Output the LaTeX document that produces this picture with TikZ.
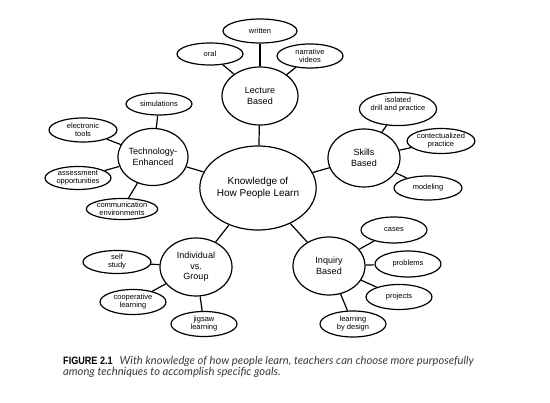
\documentclass[tikz,border=0pt]{standalone}
\usepackage{fontspec}
\setmainfont{Liberation Sans}
\newfontfamily\capfont{Lato}
\newfontfamily\figfont[FakeStretch=0.85]{Liberation Sans}
\usetikzlibrary{shapes.geometric}
\definecolor{capgray}{HTML}{3A3A3A}
\begin{document}
\begin{tikzpicture}[x=1pt,y=-1pt,
  base/.style={draw, ellipse, line width=1.2pt, inner sep=0pt, align=center},
  main/.style={base, font=\fontsize{10}{12}\selectfont},
  hub/.style={base, font=\fontsize{9}{10.5}\selectfont},
  leaf/.style={base, font=\fontsize{7.5}{8}\selectfont},
  link/.style={line width=1.2pt}]
\useasboundingbox (0,0) rectangle (550,403);

\node[main, minimum width=104pt, minimum height=84pt] (kn) at (258,188) {Knowledge of\\How People Learn};

\node[hub, minimum width=76pt, minimum height=58pt] (lec) at (260,96) {Lecture\\Based};
\node[leaf, minimum width=74pt, minimum height=24pt] (wri) at (260,31) {written};
\node[leaf, minimum width=66pt, minimum height=22pt] (ora) at (210,54) {oral};
\node[leaf, minimum width=66pt, minimum height=24pt] (nar) at (310,56) {narrative\\videos};

\node[hub, minimum width=70pt, minimum height=57pt] (tec) at (153,157) {Technology-\\Enhanced};
\node[leaf, minimum width=66pt, minimum height=22pt] (sim) at (159,104) {simulations};
\node[leaf, minimum width=68pt, minimum height=24pt] (ele) at (83,130) {electronic\\tools};
\node[leaf, minimum width=66pt, minimum height=23pt] (ass) at (78,178) {assessment\\opportunities};
\node[leaf, minimum width=66pt, minimum height=21pt] (com) at (122,209) {communication\\environments};

\node[hub, minimum width=72pt, minimum height=58pt] (ski) at (364,158) {Skills\\Based};
\node[leaf, minimum width=68pt, minimum height=25pt] (dri) at (398,109) {isolated\\drill and practice\\[2pt]};
\node[leaf, minimum width=66pt, minimum height=25pt] (con) at (441,141) {contectualized\\practice};
\node[leaf, minimum width=68pt, minimum height=24pt] (mod) at (428,188) {modeling};

\node[hub, minimum width=72pt, minimum height=58pt] (ind) at (196,267) {Individual\\vs.\\Group};
\node[leaf, minimum width=68pt, minimum height=23pt] (sel) at (117,262) {self\\study};
\node[leaf, minimum width=66pt, minimum height=25pt] (coo) at (133,302) {cooperative\\learning};
\node[leaf, minimum width=66pt, minimum height=25pt] (jig) at (204,324) {jigsaw\\learning};

\node[hub, minimum width=72pt, minimum height=58pt] (inq) at (329,266) {Inquiry\\Based};
\node[leaf, minimum width=66pt, minimum height=26pt] (cas) at (394,230) {cases};
\node[leaf, minimum width=66pt, minimum height=26pt] (pro) at (408,264) {problems};
\node[leaf, minimum width=66pt, minimum height=25pt] (prj) at (399,297) {projects};
\node[leaf, minimum width=66pt, minimum height=26pt] (lbd) at (353,324) {learning\\by design};

\draw[link] (kn) -- (lec);
\draw[link] (kn) -- (tec);
\draw[link] (kn) -- (ski);
\draw[link] (kn) -- (ind);
\draw[link] (kn) -- (inq);
\draw[link] (lec) -- (wri);
\draw[link] (lec) -- (ora);
\draw[link] (lec) -- (nar);
\draw[link] (tec) -- (sim);
\draw[link] (tec) -- (ele);
\draw[link] (tec) -- (ass);
\draw[link] (tec) -- (com);
\draw[link] (ski) -- (dri);
\draw[link] (ski) -- (con);
\draw[link] (ski) -- (mod);
\draw[link] (ind) -- (sel);
\draw[link] (ind) -- (coo);
\draw[link] (ind) -- (jig);
\draw[link] (inq) -- (cas);
\draw[link] (inq) -- (pro);
\draw[link] (inq) -- (prj);
\draw[link] (inq) -- (lbd);

\node[anchor=base west, inner sep=0pt, font=\fontsize{10.7}{12}\selectfont] (cap1) at (63,365)
  {{\figfont\bfseries FIGURE 2.1}\hspace{7pt}{\capfont\itshape\fontsize{11.2}{12}\selectfont\color{capgray}With knowledge of how people learn, teachers can choose more purposefully}};
\node[anchor=base west, inner sep=0pt, font=\fontsize{11.2}{12}\selectfont] (cap2) at (63,376)
  {{\capfont\itshape\color{capgray}among techniques to accomplish specific goals.}};
\end{tikzpicture}
\end{document}
